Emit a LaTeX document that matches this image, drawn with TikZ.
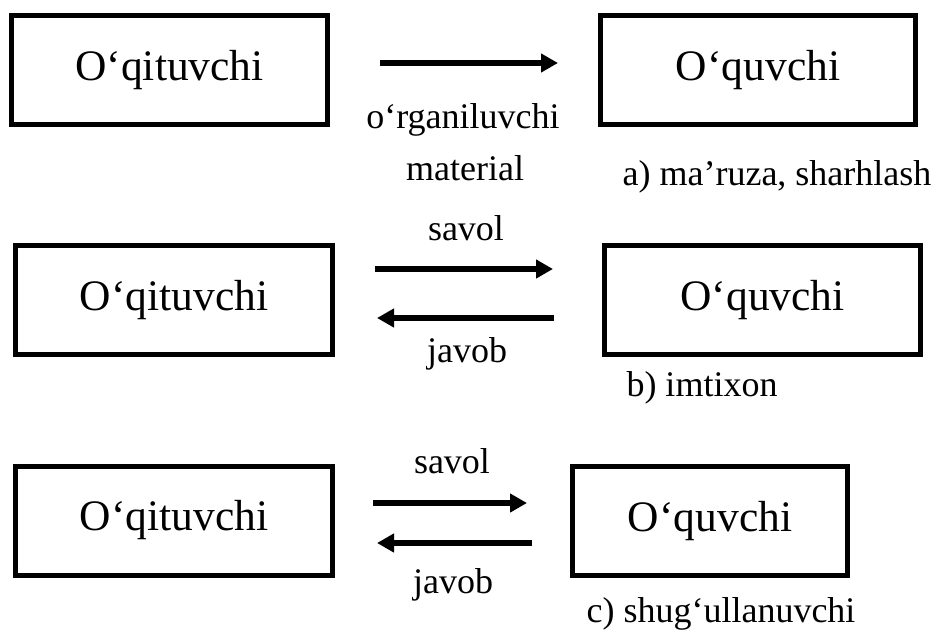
\documentclass[tikz,border=0pt]{standalone}
\usepackage{fontspec}
\setmainfont{Liberation Serif}
\usetikzlibrary{arrows.meta}

\tikzset{
  actor/.style={draw, line width=5pt, rectangle, minimum height=109pt,
                inner sep=0pt, font=\fontsize{43.5}{50}\selectfont},
  label/.style={anchor=base, inner sep=0pt, font=\fontsize{36}{42}\selectfont},
  flow/.style={line width=6pt, -{Triangle[length=17pt,width=18pt]}}
}

\begin{document}
\begin{tikzpicture}[x=1pt, y=-1pt]
  \useasboundingbox (0,0) rectangle (950,635);

  % a) lecture: one-way flow from teacher to student
  \node[actor, minimum width=316pt] (t1) at (169.5,70) {O‘qituvchi};
  \node[actor, minimum width=315pt] (s1) at (758,70) {O‘quvchi};
  \coordinate (a1s) at (380,63);
  \coordinate (a1e) at (558,63);
  \draw[flow] (a1s) -- (a1e);
  \node[label] (l1a) at (463,128) {o‘rganiluvchi};
  \node[label] (l1b) at (465,180) {material};
  \node[label] (c1) at (777,185) {a) ma’ruza, sharhlash};

  % b) examination: question and answer
  \node[actor, minimum width=317pt] (t2) at (174,300) {O‘qituvchi};
  \node[actor, minimum width=316pt] (s2) at (762.5,300) {O‘quvchi};
  \coordinate (b1s) at (375,269);
  \coordinate (b1e) at (553,269);
  \coordinate (b2s) at (554,318);
  \coordinate (b2e) at (377,318);
  \draw[flow] (b1s) -- (b1e);
  \draw[flow] (b2s) -- (b2e);
  \node[label] (q2) at (466,240) {savol};
  \node[label] (r2) at (467,362) {javob};
  \node[label] (c2) at (702,396) {b) imtixon};

  % c) activity: question and answer, narrower student box
  \node[actor, minimum width=317pt] (t3) at (174,520.5) {O‘qituvchi};
  \node[actor, minimum width=275pt] (s3) at (710,521) {O‘quvchi};
  \coordinate (d1s) at (373,503);
  \coordinate (d1e) at (527,503);
  \coordinate (d2s) at (532,543);
  \coordinate (d2e) at (377,543);
  \draw[flow] (d1s) -- (d1e);
  \draw[flow] (d2s) -- (d2e);
  \node[label] (q3) at (452,473) {savol};
  \node[label] (r3) at (453,593) {javob};
  \node[label] (c3) at (721,622) {c) shug‘ullanuvchi};
\end{tikzpicture}
\end{document}
